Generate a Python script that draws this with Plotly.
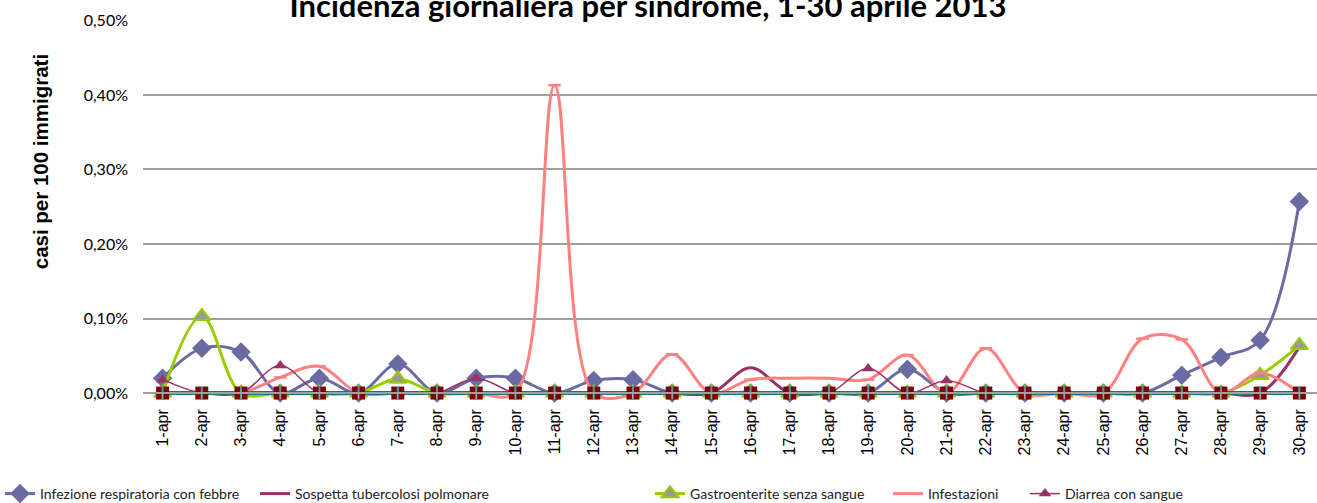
import plotly.graph_objects as go

# ---------------- data (values in % : casi per 100 immigrati) ----------------
days = ["1-apr", "2-apr", "3-apr", "4-apr", "5-apr", "6-apr", "7-apr", "8-apr", "9-apr", "10-apr",
        "11-apr", "12-apr", "13-apr", "14-apr", "15-apr", "16-apr", "17-apr", "18-apr", "19-apr", "20-apr",
        "21-apr", "22-apr", "23-apr", "24-apr", "25-apr", "26-apr", "27-apr", "28-apr", "29-apr", "30-apr"]

infezione_resp = [0.020, 0.060, 0.055, 0, 0.020, 0, 0.039, 0, 0.020, 0.020,
                  0, 0.017, 0.018, 0, 0, 0, 0, 0, 0, 0.032,
                  0, 0, 0, 0, 0, 0, 0.024, 0.048, 0.071, 0.257]

sospetta_tbc = [0, 0, 0, 0, 0, 0, 0, 0, 0, 0,
                0, 0, 0, 0, 0, 0.034, 0, 0, 0, 0,
                0, 0, 0, 0, 0, 0, 0, 0, 0, 0.062]

gastroenterite = [0, 0.103, 0, 0, 0, 0, 0.019, 0, 0, 0,
                  0, 0, 0, 0, 0, 0, 0, 0, 0, 0,
                  0, 0, 0, 0, 0, 0, 0, 0, 0.024, 0.064]

infestazioni = [0, 0, 0, 0.021, 0.036, 0, 0, 0, 0, 0,
                0.413, 0, 0, 0.052, 0, 0.018, 0.020, 0.020, 0.018, 0.051,
                0, 0.060, 0, 0, 0, 0.073, 0.072, 0, 0.027, 0]

diarrea = [0.018, 0, 0, 0.037, 0, 0, 0, 0, 0.020, 0,
           0, 0, 0, 0, 0, 0, 0, 0, 0.033, 0,
           0.017, 0, 0, 0, 0, 0, 0, 0, 0, 0]

altra_sindrome_a = [0] * 30   # zero-valued series (square markers)
altra_sindrome_b = [0] * 30   # zero-valued series (cross markers)

y_tick_vals = [0, 0.1, 0.2, 0.3, 0.4, 0.5]
y_tick_text = ["0,00%", "0,10%", "0,20%", "0,30%", "0,40%", "0,50%"]

# ---------------- layout constants ----------------
W, H = 1317, 503
ML, MR = 143, 0
Y_MIN, Y_MAX = -0.012, 0.5005
ZERO_PX, TOP_TICK_PX = 393, 20
PX_PER_UNIT = (ZERO_PX - TOP_TICK_PX) / 0.5
MT = TOP_TICK_PX - (Y_MAX - 0.5) * PX_PER_UNIT
plot_bottom = ZERO_PX + (-Y_MIN) * PX_PER_UNIT
MB = H - plot_bottom
plot_h = plot_bottom - MT
plot_w = W - ML - MR
zero_frac = (0 - Y_MIN) / (Y_MAX - Y_MIN)

C_INF = "#6B6BA3"
C_TBC = "#993366"
C_GAS = "#99CC00"
C_IFS = "#FF8080"
C_DIA = "#993366"
C_SQ = "#800000"
C_TEAL = "#1F6F7F"
C_CROSS = "#3AA0B0"

fig = go.Figure()

fig.add_trace(go.Scatter(
    x=days, y=infezione_resp, name="Infezione respiratoria con febbre", mode="lines+markers",
    line=dict(color=C_INF, width=3, shape="spline"),
    marker=dict(symbol="diamond", size=15, color=C_INF), legend="legend", cliponaxis=False))
fig.add_trace(go.Scatter(
    x=days, y=sospetta_tbc, name="Sospetta tubercolosi polmonare", mode="lines",
    line=dict(color=C_TBC, width=3, shape="spline"), legend="legend2"))
fig.add_trace(go.Scatter(
    x=days, y=gastroenterite, name="Gastroenterite senza sangue", mode="lines+markers",
    line=dict(color=C_GAS, width=3, shape="spline"),
    marker=dict(symbol="triangle-up", size=15, color="#999999", line=dict(color=C_GAS, width=2)),
    legend="legend3", cliponaxis=False))
fig.add_trace(go.Scatter(
    x=days, y=infestazioni, name="Infestazioni", mode="lines+markers",
    line=dict(color=C_IFS, width=3, shape="spline"),
    marker=dict(symbol="line-ew", size=9, line=dict(color=C_IFS, width=2.5)),
    legend="legend4", cliponaxis=False))
fig.add_trace(go.Scatter(
    x=days, y=diarrea, name="Diarrea con sangue", mode="lines+markers",
    line=dict(color=C_DIA, width=1.5, shape="spline"),
    marker=dict(symbol="triangle-up", size=11, color=C_DIA), legend="legend5", cliponaxis=False))

# zero-valued extra series (legend entries cut off in the original)
fig.add_trace(go.Scatter(
    x=days, y=altra_sindrome_b, mode="lines", showlegend=False,
    line=dict(color=C_TEAL, width=4)))
fig.add_trace(go.Scatter(
    x=days, y=altra_sindrome_a, mode="lines+markers", showlegend=False,
    line=dict(color=C_SQ, width=2),
    marker=dict(symbol="square", size=13, color=C_SQ), cliponaxis=False))
fig.add_trace(go.Scatter(
    x=days, y=altra_sindrome_b, mode="markers", showlegend=False,
    marker=dict(symbol="cross-thin", size=9, line=dict(color=C_CROSS, width=2)), cliponaxis=False))

legend_font = dict(family="Lato", size=14, color="#222222")
legend_text_x = [32, 295, 690, 928, 1065]
legend_y = 1 - 494 / H
legend_common = dict(orientation="h", xref="paper", yref="container", yanchor="middle",
                     xanchor="left", font=legend_font, bgcolor="rgba(0,0,0,0)",
                     borderwidth=0, itemwidth=30, tracegroupgap=0)

layout_legends = {}
for i, tx in enumerate(legend_text_x):
    key = "legend" if i == 0 else f"legend{i+1}"
    layout_legends[key] = dict(x=(tx - 40 - ML) / plot_w, y=legend_y, **legend_common)

fig.update_layout(
    width=W, height=H,
    margin=dict(l=ML, r=MR, t=MT, b=MB, pad=0),
    paper_bgcolor="white", plot_bgcolor="white",
    title=dict(text="<b>Incidenza giornaliera per sindrome, 1-30 aprile 2013</b>",
               x=648 / W, xanchor="center", xref="container",
               y=1 - 6 / H, yanchor="middle", yref="container",
               font=dict(family="Lato", size=31, color="black")),
    xaxis=dict(type="category", range=[-0.5, 29.45], anchor="free", position=zero_frac,
               showline=True, linecolor="#A0A0A0", linewidth=1.5,
               ticks="outside", ticklen=5, tickcolor="#A0A0A0", tickwidth=1,
               ticklabelstandoff=4,
               tickangle=-90, tickfont=dict(family="Liberation Sans", size=16, color="black"),
               showgrid=False, zeroline=False, fixedrange=True),
    yaxis=dict(range=[Y_MIN, Y_MAX], tickvals=y_tick_vals, ticktext=y_tick_text,
               showgrid=True, gridcolor="#A0A0A0", gridwidth=1.5, zeroline=False,
               showline=False, ticks="", ticklabelstandoff=14,
               tickfont=dict(family="Lato", size=16, color="black")),
    showlegend=True,
    annotations=[dict(text="<b>casi per 100 immigrati</b>", textangle=-90,
                      xref="paper", yref="paper",
                      x=(40 - ML) / plot_w, y=(plot_bottom - 162) / plot_h,
                      xanchor="center", yanchor="middle", showarrow=False,
                      font=dict(family="Liberation Sans", size=20.5, color="black"))],
    **layout_legends,
)

fig.write_html("out.html", config={"displayModeBar": False},
               post_script="document.body.style.margin='0px';")
